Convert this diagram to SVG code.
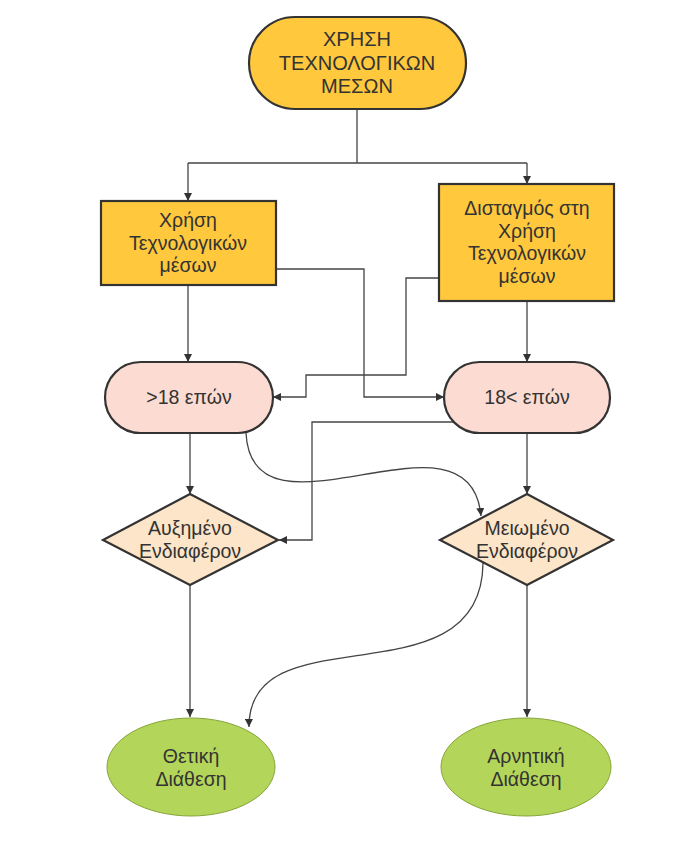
<svg xmlns="http://www.w3.org/2000/svg" width="697" height="860" viewBox="0 0 697 860">
<defs>
<marker id="arr" viewBox="0 0 10 10" refX="10" refY="5" markerWidth="8" markerHeight="8" markerUnits="userSpaceOnUse" orient="auto">
<path d="M0,0 L10,5 L0,10 z" fill="#333"/>
</marker>
</defs>
<style>
.t{font-family:"Liberation Sans",Arial,sans-serif;font-size:19.5px;fill:#333;text-anchor:middle}
.t2{font-size:20px}
.box{fill:#FFC83D;stroke:#333;stroke-width:2.2}
.pill{fill:#FCDCD2;stroke:#333;stroke-width:2.2}
.dia{fill:#FCE5C8;stroke:#333;stroke-width:2.2}
.ell{fill:#B3D65A;stroke:#86A43A;stroke-width:1}
.c{fill:none;stroke:#444;stroke-width:1.3}
</style>
<rect width="697" height="860" fill="#fff"/>
<g id="connectors">
<path class="c" d="M357,109 V163"/>
<path class="c" d="M188,163 H527"/>
<path class="c" d="M188,163 V201" marker-end="url(#arr)"/>
<path class="c" d="M527,163 V184" marker-end="url(#arr)"/>
<path class="c" d="M188,285 V362" marker-end="url(#arr)"/>
<path class="c" d="M527,301 V362" marker-end="url(#arr)"/>
<path class="c" d="M276,269 H364 V397 H444" marker-end="url(#arr)"/>
<path class="c" d="M439,278 H406 V375 H306 V397 H273" marker-end="url(#arr)"/>
<path class="c" d="M456,422 H312 V540 H279" marker-end="url(#arr)"/>
<path class="c" d="M190,433 V494" marker-end="url(#arr)"/>
<path class="c" d="M527,433 V494" marker-end="url(#arr)"/>
<path class="c" d="M246,433 C252,555 470,395 481,516" marker-end="url(#arr)"/>
<path class="c" d="M190,585 V717" marker-end="url(#arr)"/>
<path class="c" d="M527,585 V717" marker-end="url(#arr)"/>
<path class="c" d="M483,563 C482,705 248,610 249,727" marker-end="url(#arr)"/>
</g>
<g id="n-start">
<rect class="box" x="249" y="17" width="217" height="92" rx="46" ry="46"/>
<text class="t t2" x="357" y="46">ΧΡΗΣΗ</text>
<text class="t t2" x="357" y="70">ΤΕΧΝΟΛΟΓΙΚΩΝ</text>
<text class="t t2" x="357" y="93">ΜΕΣΩΝ</text>
</g>
<g id="n-use">
<rect class="box" x="101" y="201" width="175" height="84"/>
<text class="t" x="188" y="227">Χρήση</text>
<text class="t" x="188" y="250">Τεχνολογικών</text>
<text class="t" x="188" y="272">μέσων</text>
</g>
<g id="n-hesitation">
<rect class="box" x="439" y="184" width="175" height="117"/>
<text class="t" x="527" y="215">Δισταγμός στη</text>
<text class="t" x="527" y="238">Χρήση</text>
<text class="t" x="527" y="260">Τεχνολογικών</text>
<text class="t" x="527" y="283">μέσων</text>
</g>
<g id="n-over18">
<rect class="pill" x="105" y="362" width="168" height="71" rx="35.5" ry="35.5"/>
<text class="t" x="189" y="404">&gt;18 επών</text>
</g>
<g id="n-under18">
<rect class="pill" x="444" y="362" width="166" height="71" rx="35.5" ry="35.5"/>
<text class="t" x="527" y="404">18&lt; επών</text>
</g>
<g id="n-increased">
<polygon class="dia" points="190,494 278,540 190,585 103,540"/>
<text class="t" x="190" y="535">Αυξημένο</text>
<text class="t" x="190" y="558">Ενδιαφέρον</text>
</g>
<g id="n-decreased">
<polygon class="dia" points="527,494 613,540 527,585 440,540"/>
<text class="t" x="527" y="535">Μειωμένο</text>
<text class="t" x="527" y="558">Ενδιαφέρον</text>
</g>
<g id="n-positive">
<ellipse class="ell" cx="191" cy="767" rx="84" ry="49"/>
<text class="t" x="191" y="763">Θετική</text>
<text class="t" x="191" y="786">Διάθεση</text>
</g>
<g id="n-negative">
<ellipse class="ell" cx="526" cy="767" rx="85" ry="49"/>
<text class="t" x="526" y="763">Αρνητική</text>
<text class="t" x="526" y="786">Διάθεση</text>
</g>
</svg>
